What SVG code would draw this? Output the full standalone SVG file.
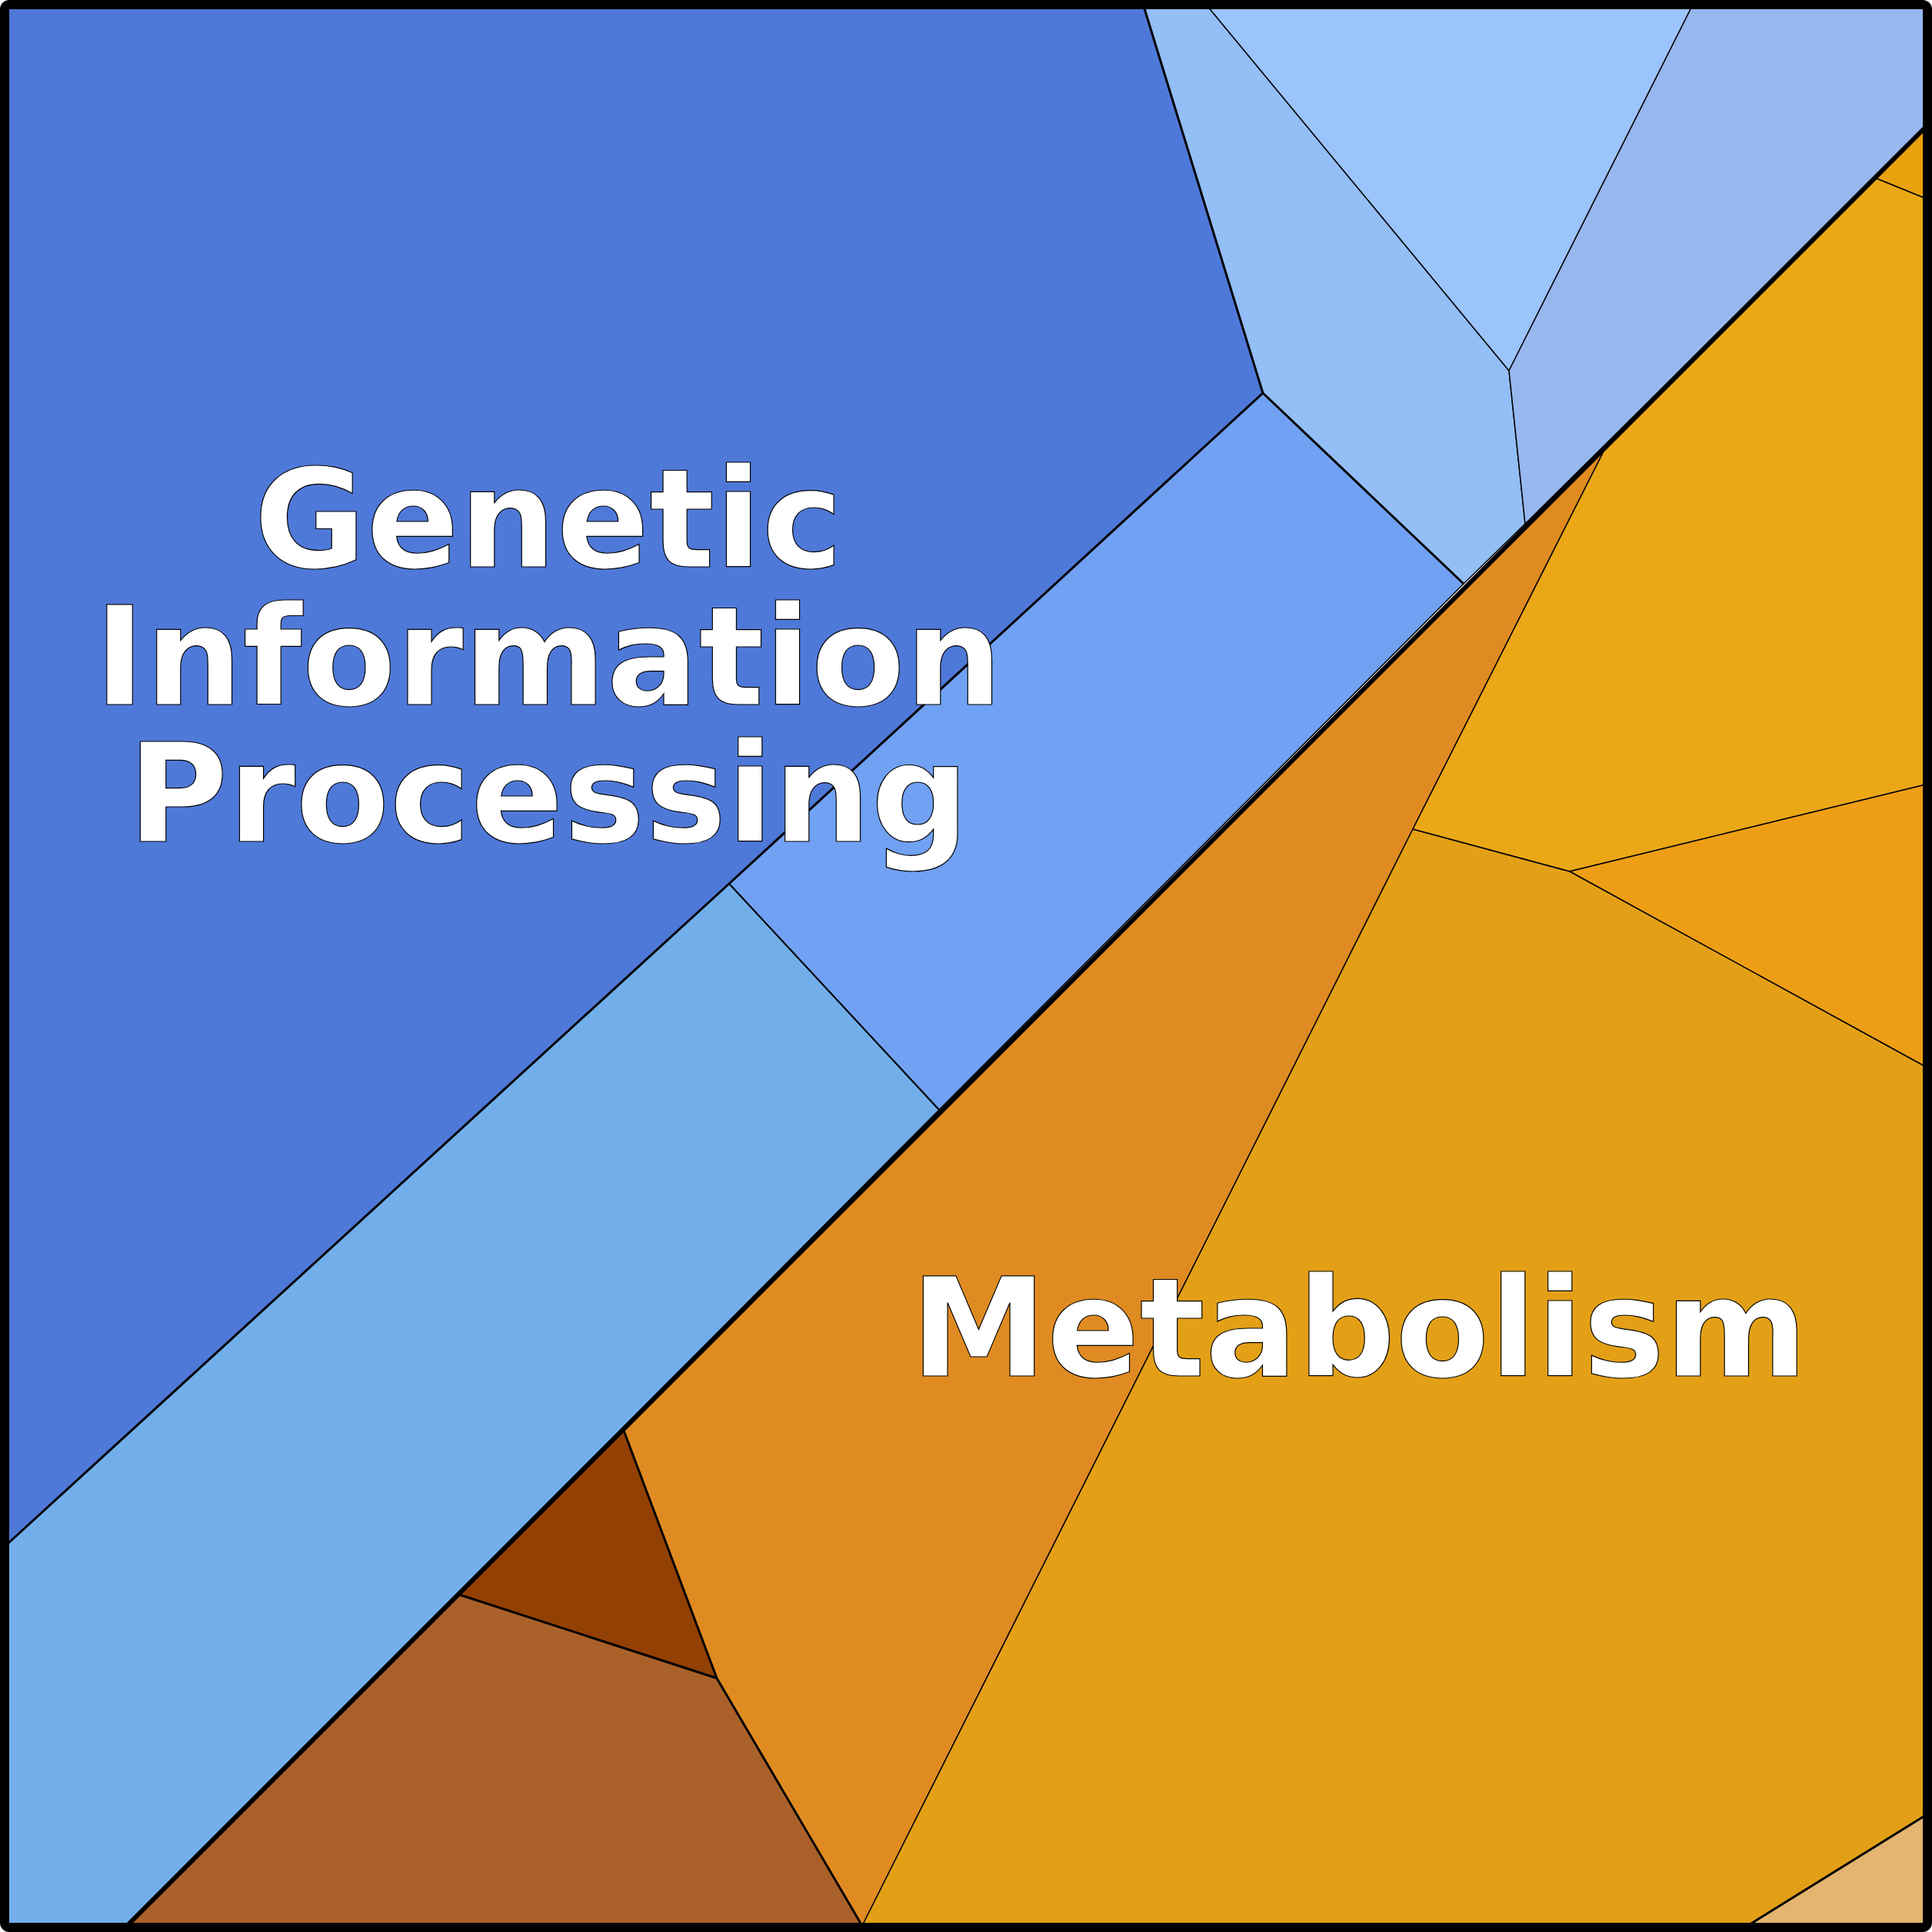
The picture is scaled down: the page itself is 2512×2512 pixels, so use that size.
<svg xmlns="http://www.w3.org/2000/svg" width="2512" height="2512" viewBox="0 0 2512 2512">
<style>
.c{stroke:#000;stroke-width:1.5;stroke-linejoin:round}
.t{font-family:"DejaVu Sans",sans-serif;font-weight:bold;font-size:178px;fill:#fff;stroke:#000;stroke-width:1.2;text-anchor:middle}
</style>
<g id="cells">
<polygon id="gip1" class="c" fill="#4F79D8" points="8,8 1487,8 1642,511 948,1149 8,2009"/>
<polygon id="gip2" class="c" fill="#93BEF6" points="1487,8 1570,8 1962,482 1983,681 1903,759 1642,511"/>
<polygon id="gip3" class="c" fill="#9BC4FC" points="1570,8 2200,8 1962,482"/>
<polygon id="gip4" class="c" fill="#97B8EF" points="2200,8 2504,8 2504,165 1983,681 1962,482"/>
<polygon id="gip5" class="c" fill="#71A1F3" points="1642,511 1903,759 1221,1443 948,1149"/>
<polygon id="gip6" class="c" fill="#72AFEA" points="948,1149 1221,1443 165,2504 8,2504 8,2009"/>
<polygon id="m1" class="c" fill="#E08B22" points="2086,585 1837,1078 1121,2504 932,2182 811,1860"/>
<polygon id="m2" class="c" fill="#934004" points="811,1860 932,2182 596,2073"/>
<polygon id="m3" class="c" fill="#AA6129" points="596,2073 932,2182 1121,2504 165,2504"/>
<polygon id="m4" class="c" fill="#E3A017" points="1121,2504 1837,1078 2041,1133 2504,1387 2504,2360 2272,2504"/>
<polygon id="m5" class="c" fill="#E3B570" points="2272,2504 2504,2360 2504,2504"/>
<polygon id="m6" class="c" fill="#EAA716" points="2086,585 2440,232 2504,258 2504,1020 2041,1133 1837,1078"/>
<polygon id="m7" class="c" fill="#ED9E15" points="2041,1133 2504,1020 2504,1387"/>
<polygon id="m8" class="c" fill="#E9A10E" points="2440,232 2504,165 2504,258"/>
</g>
<g id="connectors" fill="none" stroke="#000">
<line x1="165" y1="2504" x2="2504" y2="165" stroke-width="6"/>
<polyline points="1487,8 1642,511 948,1149 8,2009" stroke-width="3"/>
<line x1="1642" y1="511" x2="1903" y2="759" stroke-width="3"/>
<line x1="948" y1="1149" x2="1221" y2="1443" stroke-width="2"/>
<polyline points="811,1860 932,2182 1121,2504" stroke-width="3"/>
<line x1="596" y1="2073" x2="932" y2="2182" stroke-width="3"/>
<line x1="2272" y1="2504" x2="2504" y2="2360" stroke-width="3"/>
<rect x="6" y="6" width="2500" height="2500" rx="6" stroke-width="12"/>
</g>
<g id="labels">
<text class="t" x="713" y="737">Genetic</text>
<text class="t" x="713" y="916">Information</text>
<text class="t" x="713" y="1094">Processing</text>
<text class="t" x="1767" y="1789">Metabolism</text>
</g>
</svg>
